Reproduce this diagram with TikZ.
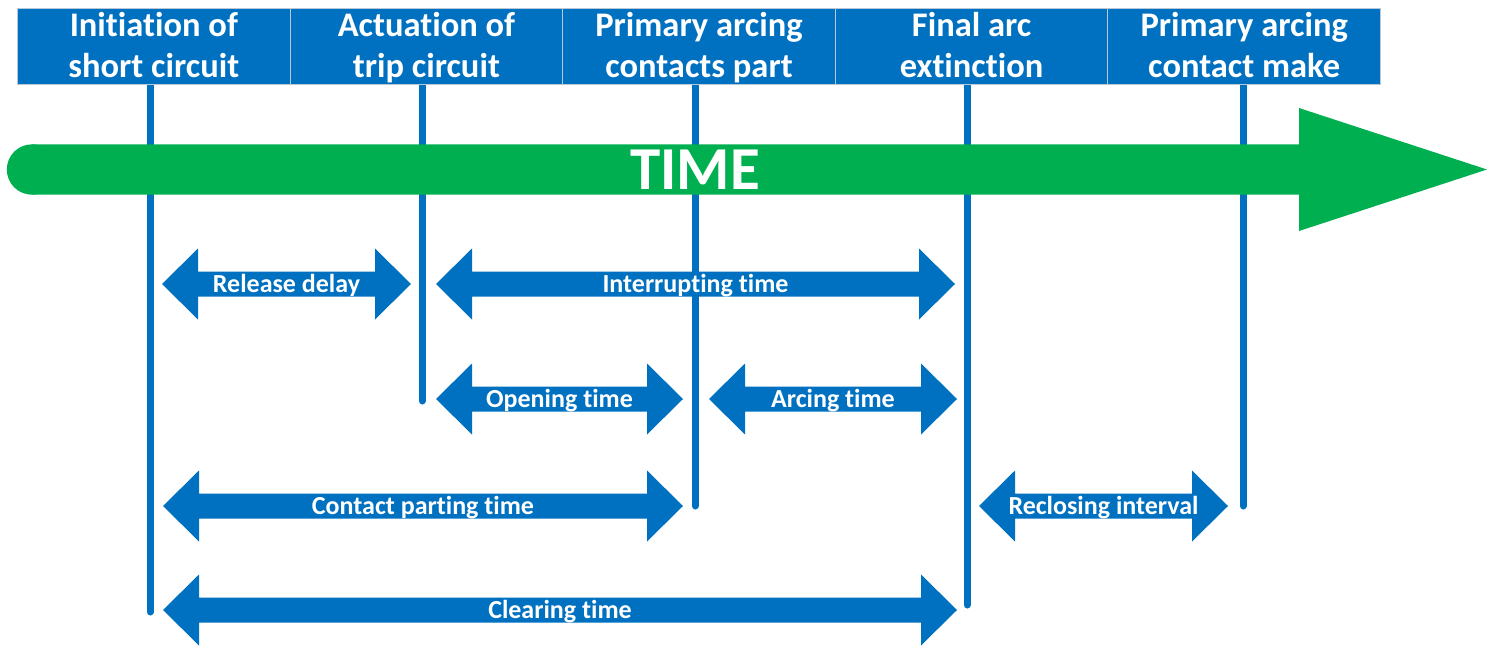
\documentclass[tikz,border=0pt]{standalone}
\usepackage{fontspec}
\setmainfont{Carlito}[Ligatures=NoCommon]
\definecolor{hblue}{HTML}{0070C0}
\definecolor{tgreen}{HTML}{00B050}
\definecolor{hgrey}{HTML}{B8C8D8}
\newcommand\hstrut{\rule[-7pt]{0pt}{35pt}}
\newcommand\darr[5]{%
  \fill[hblue] (#2,#4) -- ++(36,-35.5) -- ++(0,23) -- ({#3-36},{#4-12.5}) -- ++(0,-23)
    -- (#3,#4) -- ({#3-36},{#4+35.5}) -- ++(0,-23) -- ({#2+36},{#4+12.5}) -- ++(0,23) -- cycle;
  \node[lbl,anchor=base] (#1) at ({(#2+#3)/2},{#4+8.4}) {#5};}
\begin{document}
\begin{tikzpicture}[x=1pt,y=-1pt,
  hdr/.style={fill=hblue,draw=hgrey,line width=1pt,minimum width=272.6pt,minimum height=76pt,
    anchor=north west,inner sep=0pt,text=white,font=\bfseries\fontsize{34.5}{41}\selectfont,align=center},
  vline/.style={draw=hblue,line width=7pt,line cap=round},
  lbl/.style={text=white,font=\bfseries\fontsize{26}{30}\selectfont,inner sep=0pt}]
\useasboundingbox (0,0) rectangle (1496,645);
% end points of the vertical markers
\coordinate (e1) at (150,612);
\coordinate (e2) at (422,401);
\coordinate (e3) at (695,506);
\coordinate (e4) at (967,605);
\coordinate (e5) at (1243,506);
\draw[vline] (150,60) -- (e1);
\draw[vline] (422,60) -- (e2);
\draw[vline] (695,60) -- (e3);
\draw[vline] (967,60) -- (e4);
\draw[vline] (1243,60) -- (e5);
% time arrow
\fill[tgreen] (32,169.5) circle[radius=25.2pt];
\fill[tgreen] (32,144.3) -- (1299,144.3) -- (1299,108) -- (1487,169.5) -- (1299,231) -- (1299,194.7) -- (32,194.7) -- cycle;
\node[font=\bfseries\fontsize{61}{61}\selectfont,text=white,inner sep=0pt] (time) at (695,170) {TIME};
% headers
\node[hdr] (h1) at (17,8) {\hstrut Initiation of\\\hstrut short circuit};
\node[hdr] (h2) at (289.6,8) {\hstrut Actuation of\\\hstrut trip circuit};
\node[hdr] (h3) at (562.2,8) {\hstrut Primary arcing\\\hstrut contacts part};
\node[hdr] (h4) at (834.8,8) {\hstrut Final arc\\\hstrut extinction};
\node[hdr] (h5) at (1107.4,8) {\hstrut Primary arcing\\\hstrut contact make};
% interval arrows
\darr{rd}{162}{411}{284}{Release delay}
\darr{it}{436}{955}{284}{Interrupting time}
\darr{ot}{436}{683}{399}{Opening time}
\darr{at}{709}{957}{399}{Arcing time}
\darr{cp}{163}{683}{506}{Contact parting time}
\darr{ri}{979}{1228}{506}{Reclosing interval}
\darr{ct}{163}{957}{610}{Clearing time}
\end{tikzpicture}
\end{document}
